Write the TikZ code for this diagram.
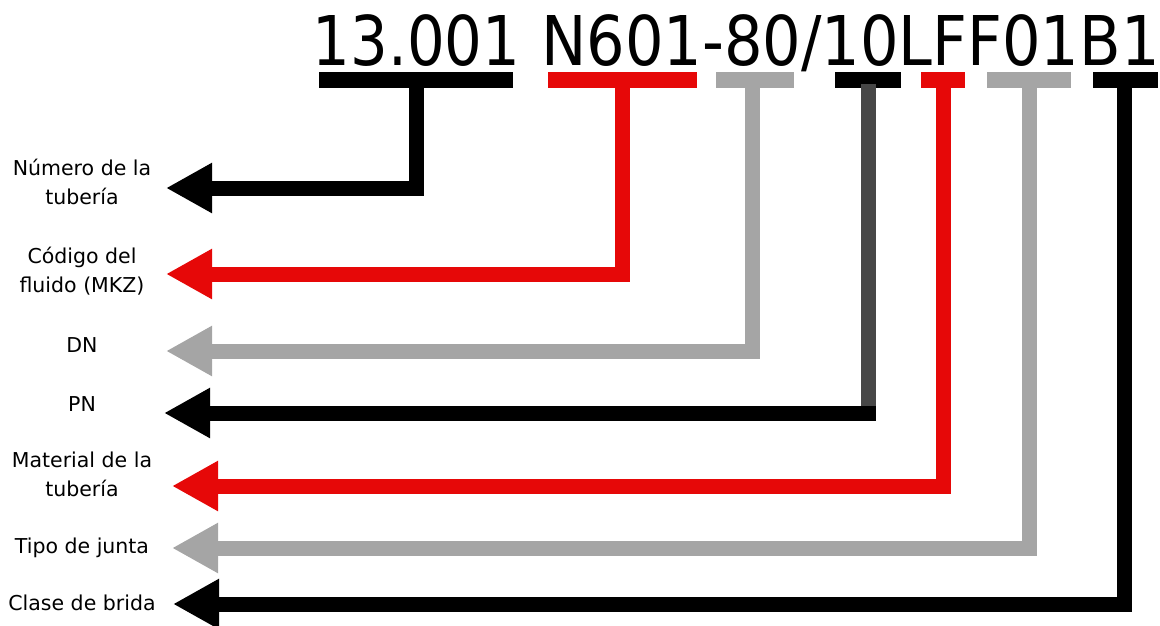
\documentclass[tikz,border=0pt]{standalone}
\usepackage{fontspec}
\setmainfont{DejaVu Sans}
\usetikzlibrary{arrows.meta,calc}
\definecolor{rd}{HTML}{E60808}
\definecolor{gr}{HTML}{A5A5A5}
\definecolor{dg}{HTML}{474747}
\begin{document}
\begin{tikzpicture}[x=1pt,y=-1pt,
  lbl/.style={font=\fontsize{20.5}{29}\selectfont, align=center, anchor=base, inner sep=0pt},
  code/.style={font=\fontsize{68.6}{80}\selectfont, anchor=base west, inner sep=0pt},
  bar/.style={minimum height=16pt, inner sep=0pt, draw=none},
  conn/.style={line width=15pt, -{Triangle[length=46pt,width=47pt]}},
  stem/.style={line width=15pt},
  ]
\useasboundingbox (0,0) rectangle (1160,625);

% code text
\node[code] (c1) at (312.5,65) {\scalebox{0.865}[1]{13.001}};
\node[code] (c2) at (541,65) {\scalebox{0.884}[1]{N601-80/10LFF01B1}};

% bars
\node[bar, fill=black, minimum width=194pt] (b1) at (416,80) {};
\node[bar, fill=rd,    minimum width=149pt] (b2) at (622.5,80) {};
\node[bar, fill=gr,    minimum width=78pt]  (b3) at (755,80) {};
\node[bar, fill=black, minimum width=66pt]  (b4) at (868,80) {};
\node[bar, fill=rd,    minimum width=44pt]  (b5) at (943,80) {};
\node[bar, fill=gr,    minimum width=84pt]  (b6) at (1029,80) {};
\node[bar, fill=black, minimum width=65pt]  (b7) at (1125,80) {};

% labels (base anchor = baseline of last line)
\node[lbl] (l1) at (82,204) {Número de la\\tubería};
\node[lbl] (l2) at (82,292) {Código del\\fluido (MKZ)};
\node[lbl] (l3) at (82,352) {DN};
\node[lbl] (l4) at (82,411) {PN};
\node[lbl] (l5) at (82,496) {Material de la\\tubería};
\node[lbl] (l6) at (82,553) {Tipo de junta};
\node[lbl] (l7) at (82,610) {Clase de brida};

% arrow tips
\coordinate (t1) at (166,188);
\coordinate (t2) at (166,274);
\coordinate (t3) at (166,351);
\coordinate (t4) at (164,413);
\coordinate (t5) at (172,486);
\coordinate (t6) at (172,548);
\coordinate (t7) at (173,604);

% connectors
\draw[conn, black] (b1.center) |- (t1);
\draw[conn, rd]    (b2.center) |- (t2);
\draw[conn, gr]    ($(b3.center)+(-3,0)$) |- (t3);
\draw[stem, dg]    ($(b4.center)+(0,4)$) -- (b4.center |- t4);
\draw[conn, black] ($(b4.center |- t4)+(7.5,0)$) -- (t4);
\draw[conn, rd]    (b5.center) |- (t5);
\draw[conn, gr]    (b6.center) |- (t6);
\draw[conn, black] ($(b7.center)+(-1,0)$) |- (t7);
\end{tikzpicture}
\end{document}
